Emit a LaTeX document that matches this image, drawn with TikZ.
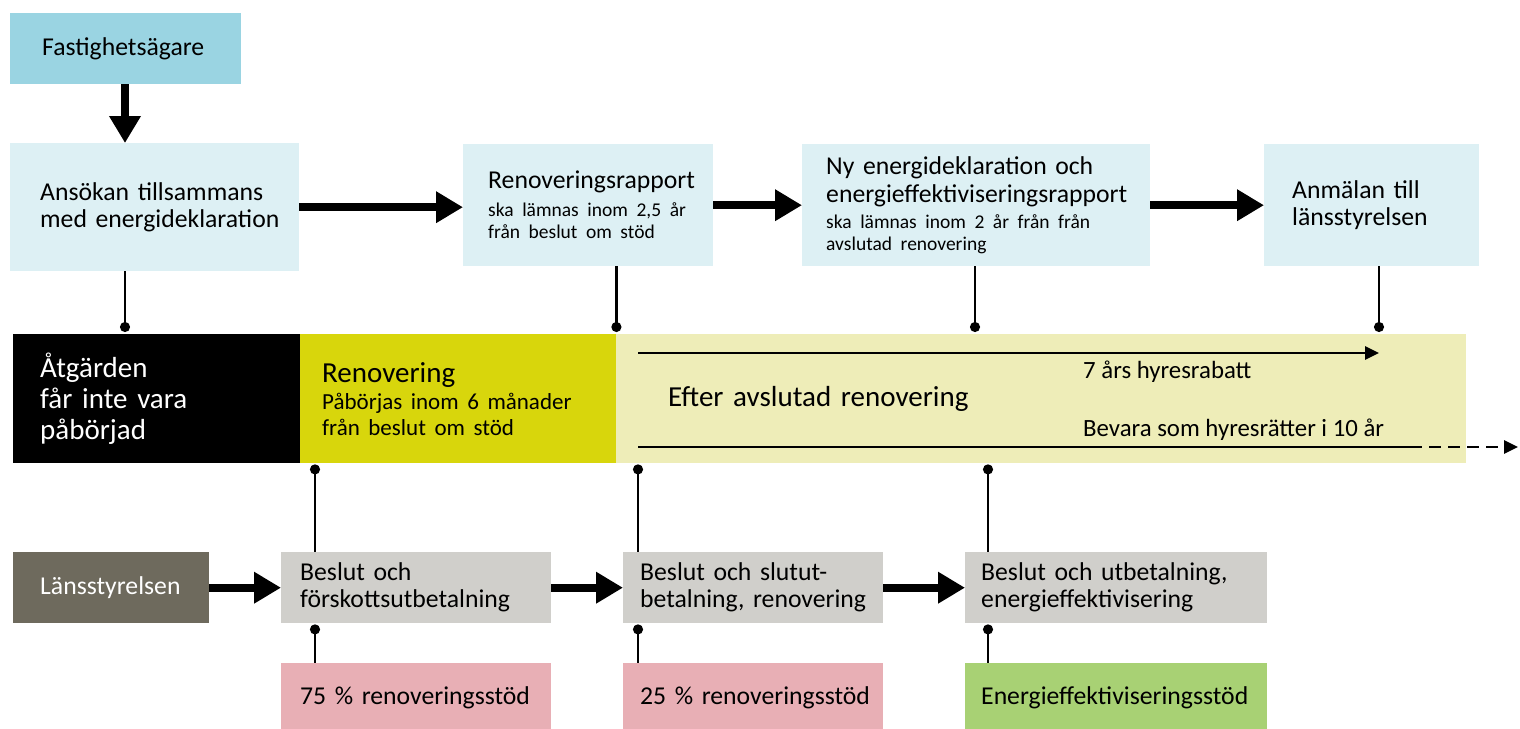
\documentclass[tikz,border=0pt]{standalone}
\usepackage{fontspec}
\setmainfont{Carlito}
\usetikzlibrary{arrows.meta}

\definecolor{topblue}{HTML}{9AD4E2}
\definecolor{paleblue}{HTML}{DDF0F4}
\definecolor{olive}{HTML}{D8D60C}
\definecolor{paleolive}{HTML}{EEEDB8}
\definecolor{darkgrey}{HTML}{6E6A5D}
\definecolor{lightgrey}{HTML}{D0CFCB}
\definecolor{pinkbox}{HTML}{E8AFB5}
\definecolor{greenbox}{HTML}{A8D174}

\newcommand{\normaltxt}{\fontsize{25.7pt}{27pt}\selectfont}
\newcommand{\smalltxt}{\fontsize{19.5pt}{22pt}\selectfont}
\newcommand{\midtxt}{\fontsize{23pt}{26pt}\selectfont}
\newcommand{\labeltxt}{\fontsize{24.8pt}{27pt}\selectfont}
\newcommand{\largetxt}{\fontsize{29pt}{31pt}\selectfont}

\begin{document}
\begin{tikzpicture}[x=1pt, y=-1pt,
    box/.style={anchor=north west, align=left, inner ysep=0pt, font=\normaltxt,
        execute at begin node={\parindent=0pt\hyphenpenalty=10000}},
    fat/.style={line width=8pt, -{Triangle[length=27pt, width=30pt]}},
    pin/.style={line width=2.3pt, -{Circle[length=10pt]}, shorten >=2pt},
    pinup/.style={line width=2.3pt, {Circle[length=10pt]}-, shorten <=1pt},
    thinarrow/.style={line width=2.7pt, -{Triangle[length=14pt, width=13pt]}}]
    \useasboundingbox (0,0) rectangle (1520,728);

    % Applicant row
    \node (fast) at (10,13) [box, fill=topblue, inner xsep=32pt, text width=167pt, minimum height=71pt] {Fastighetsägare};
    \node (ansokan) at (10,143) [box, fill=paleblue, inner xsep=30pt, text width=229pt, minimum height=128pt] {Ansökan~tillsammans\\med~energideklaration};
    \node (rapport) at (463,144) [box, fill=paleblue, inner xsep=25pt, text width=200pt, minimum height=122pt] {Renoveringsrapport\par\vspace{6pt}\smalltxt ska~lämnas~inom~2,5~år\\från beslut om stöd\par};
    \node (nyenergi) at (802,144) [box, fill=paleblue, inner xsep=24pt, text width=300pt, minimum height=122pt] {Ny energideklaration och\\[1pt]energieffektiviseringsrapport\par\vspace{4pt}\smalltxt ska lämnas inom 2 år från från\\avslutad renovering\par};
    \node (anmalan) at (1264,144) [box, fill=paleblue, inner xsep=28pt, text width=159pt, minimum height=122pt] {Anmälan till\\länsstyrelsen};

    % Time band
    \node (atgarden) at (13,334) [box, fill=black, text=white, font=\largetxt, inner xsep=27pt, text width=233pt, minimum height=129pt] {Åtgärden\\får inte vara\\påbörjad};
    \node (renovering) at (300,334) [box, fill=olive, inner xsep=22pt, text width=272pt, minimum height=129pt] {\largetxt Renovering\par\vspace{1pt}\midtxt Påbörjas inom 6 månader\\från beslut om stöd\par};
    \node (efter) at (616,334) [box, fill=paleolive, font=\largetxt, inner xsep=52pt, text width=746pt, minimum height=129pt] {Efter avslutad renovering};

    % County board row
    \node (lan) at (13,552) [box, fill=darkgrey, text=white, inner xsep=27pt, text width=142pt, minimum height=71pt] {Länsstyrelsen};
    \node (beslut1) at (281,552) [box, fill=lightgrey, inner xsep=19pt, text width=232pt, minimum height=71pt] {Beslut och\\förskottsutbetalning};
    \node (beslut2) at (623,552) [box, fill=lightgrey, inner xsep=17pt, text width=226pt, minimum height=71pt] {Beslut och slutut-\\betalning,~renovering};
    \node (beslut3) at (965,552) [box, fill=lightgrey, inner xsep=16pt, text width=270pt, minimum height=71pt] {Beslut och utbetalning,\\energieffektivisering};
    \node (stod1) at (281,663) [box, fill=pinkbox, inner xsep=19pt, text width=232pt, minimum height=70pt] {75~\%~renoveringsstöd};
    \node (stod2) at (623,663) [box, fill=pinkbox, inner xsep=17pt, text width=226pt, minimum height=70pt] {25~\%~renoveringsstöd};
    \node (stod3) at (965,663) [box, fill=greenbox, inner xsep=16pt, text width=270pt, minimum height=70pt] {Energieffektiviseringsstöd};

    % Connector positions
    \coordinate (xansokan) at (125,0);
    \coordinate (xnyenergi) at (975,0);
    \coordinate (xanmalan) at (1379,0);
    \coordinate (xbeslut1) at (315,0);
    \coordinate (xbeslut2) at (638,0);
    \coordinate (xbeslut3) at (988,0);
    \coordinate (rabatt start) at (638,353);
    \coordinate (bevara start) at (638,447);
    \coordinate (bevara mid) at (1410,447);
    \coordinate (bevara end) at (1518,447);

    % Thick arrows
    \draw[fat] (xansokan |- fast.south) -- (xansokan |- ansokan.north);
    \draw[fat] (ansokan.east) -- (ansokan.east -| rapport.west);
    \draw[fat] (rapport.east) -- (nyenergi.west);
    \draw[fat] (nyenergi.east) -- (anmalan.west);
    \draw[fat] (lan.east) -- (beslut1.west);
    \draw[fat] (beslut1.east) -- (beslut2.west);
    \draw[fat] (beslut2.east) -- (beslut3.west);

    % Pins down to the band
    \draw[pin] (xansokan |- ansokan.south) -- (xansokan |- atgarden.north);
    \draw[pin] (rapport.south -| renovering.east) -- (renovering.north east);
    \draw[pin] (xnyenergi |- nyenergi.south) -- (xnyenergi |- efter.north);
    \draw[pin] (xanmalan |- anmalan.south) -- (xanmalan |- efter.north);

    % Pins from the band
    \draw[pinup] (xbeslut1 |- renovering.south) -- (xbeslut1 |- beslut1.north);
    \draw[pinup] (xbeslut2 |- efter.south) -- (xbeslut2 |- beslut2.north);
    \draw[pinup] (xbeslut3 |- efter.south) -- (xbeslut3 |- beslut3.north);
    \draw[pinup] (xbeslut1 |- beslut1.south) -- (xbeslut1 |- stod1.north);
    \draw[pinup] (xbeslut2 |- beslut2.south) -- (xbeslut2 |- stod2.north);
    \draw[pinup] (xbeslut3 |- beslut3.south) -- (xbeslut3 |- stod3.north);

    % Periods after renovation
    \draw[thinarrow] (rabatt start) -- (rabatt start -| xanmalan);
    \node (rabatt) at (1083,372) [anchor=west, inner sep=0pt, font=\labeltxt] {7 års hyresrabatt};
    \draw[line width=2.7pt] (bevara start) -- (bevara mid);
    \draw[thinarrow, dash pattern=on 12pt off 7pt] (bevara mid) -- (bevara end);
    \node (bevara) at (1083,430) [anchor=west, inner sep=0pt, font=\labeltxt] {Bevara som hyresrätter i 10 år};
\end{tikzpicture}
\end{document}
